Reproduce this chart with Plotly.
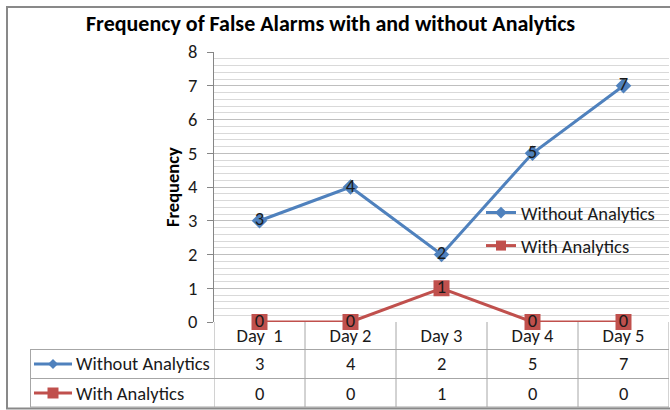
import plotly.graph_objects as go

categories = ["Day\u00a0 1", "Day 2", "Day 3", "Day 4", "Day 5"]
without_analytics = [3, 4, 2, 5, 7]
with_analytics = [0, 0, 1, 0, 0]
series_names = ["Without Analytics", "With Analytics"]
y_ticks = [0, 1, 2, 3, 4, 5, 6, 7, 8]

BLUE = "#4F81BD"
RED = "#C0504D"
FONT = "Carlito, 'Liberation Sans Narrow', 'Open Sans', sans-serif"
FS = 18.5

W, H = 670, 410
L, R, T, B = 214, 1, 52, 88
PH = H - T - B


def py(p):
    # pixel row -> paper y
    return (H - B - p) / PH


def px(p):
    return (p - L) / (W - L - R)


fig = go.Figure()

fig.add_trace(go.Scatter(
    x=categories, y=without_analytics, name=series_names[0],
    mode="lines+markers+text", text=[str(v) for v in without_analytics],
    textposition="middle center", textfont=dict(family=FONT, size=FS, color="#1a1a1a"),
    line=dict(color=BLUE, width=3), marker=dict(symbol="diamond", size=12, color=BLUE),
    showlegend=False, cliponaxis=False,
))
fig.add_trace(go.Scatter(
    x=categories, y=with_analytics, name=series_names[1],
    mode="lines+markers+text", text=[str(v) for v in with_analytics],
    textposition="middle center", textfont=dict(family=FONT, size=FS, color="#1a1a1a"),
    line=dict(color=RED, width=3), marker=dict(symbol="square", size=16, color=RED),
    showlegend=False, cliponaxis=False,
))
# legend entries
fig.add_trace(go.Scatter(
    x=[None], y=[None], name=series_names[0], mode="lines+markers",
    line=dict(color=BLUE, width=3), marker=dict(symbol="diamond", size=9, color=BLUE),
    legendgroup="a",
))
fig.add_trace(go.Scatter(
    x=[None], y=[None], name=series_names[1], mode="lines+markers",
    line=dict(color=RED, width=3), marker=dict(symbol="square", size=10, color=RED),
    legendgroup="b",
))

shapes = []
annotations = []
LINEC = "#A6A6A6"
n = len(categories)
# vertical separators in table region
for i in range(n + 1):
    xv = i - 0.5
    shapes.append(dict(type="line", xref="x", yref="paper", x0=xv, x1=xv,
                       y0=py(322), y1=py(407), line=dict(color=LINEC, width=1)))
# horizontal table lines
for p in (349.5, 378.5, 407):
    shapes.append(dict(type="line", xref="paper", yref="paper", x0=px(30), x1=1.0,
                       y0=py(p), y1=py(p), line=dict(color=LINEC, width=1)))
shapes.append(dict(type="line", xref="paper", yref="paper", x0=px(30.5), x1=px(30.5),
                   y0=py(349.5), y1=py(407), line=dict(color=LINEC, width=1)))

# outer chart border
BC = "#898989"
shapes.append(dict(type="line", xref="paper", yref="paper", x0=px(7), x1=px(7),
                   y0=py(7), y1=py(408.5), line=dict(color=BC, width=2)))
shapes.append(dict(type="line", xref="paper", yref="paper", x0=px(6), x1=1.01,
                   y0=py(7), y1=py(7), line=dict(color=BC, width=2)))
shapes.append(dict(type="line", xref="paper", yref="paper", x0=px(6), x1=1.01,
                   y0=py(408.5), y1=py(408.5), line=dict(color=BC, width=2)))

rows = [(without_analytics, series_names[0], BLUE, "diamond", 364),
        (with_analytics, series_names[1], RED, "square", 393)]
for vals, name, col, sym, yc in rows:
    # legend key
    shapes.append(dict(type="line", xref="paper", yref="paper", x0=px(34), x1=px(72),
                       y0=py(yc), y1=py(yc), line=dict(color=col, width=3)))
    cx = 53
    if sym == "diamond":
        d = 5
        path = f"M {px(cx)} {py(yc - d)} L {px(cx + d)} {py(yc)} L {px(cx)} {py(yc + d)} L {px(cx - d)} {py(yc)} Z"
    else:
        d = 5.5
        path = f"M {px(cx - d)} {py(yc - d)} L {px(cx + d)} {py(yc - d)} L {px(cx + d)} {py(yc + d)} L {px(cx - d)} {py(yc + d)} Z"
    shapes.append(dict(type="path", xref="paper", yref="paper", path=path,
                       fillcolor=col, line=dict(color=col, width=0)))
    annotations.append(dict(text=name, xref="paper", yref="paper", x=px(74), y=py(yc),
                            xanchor="left", yanchor="middle", showarrow=False,
                            font=dict(family=FONT, size=FS, color="#1a1a1a")))
    for c, v in zip(categories, vals):
        annotations.append(dict(text=str(v), xref="x", yref="paper", x=c, y=py(yc),
                                xanchor="center", yanchor="middle", showarrow=False,
                                font=dict(family=FONT, size=FS, color="#1a1a1a")))

# title and y-axis title
annotations.append(dict(text="<b>Frequency of False Alarms with and without Analytics</b>",
                        xref="paper", yref="paper", x=px(330), y=py(23),
                        xanchor="center", yanchor="middle", showarrow=False,
                        font=dict(family=FONT, size=22, color="#000000")))
annotations.append(dict(text="<b>Frequency</b>", xref="paper", yref="paper",
                        x=px(172), y=py(187), xanchor="center", yanchor="middle",
                        textangle=-90, showarrow=False,
                        font=dict(family=FONT, size=FS, color="#000000")))

fig.update_layout(
    width=W, height=H,
    margin=dict(l=L, r=R, t=T, b=B),
    paper_bgcolor="white", plot_bgcolor="white",
    font=dict(family=FONT, size=FS, color="#1a1a1a"),
    showlegend=True,
    legend=dict(x=px(481), y=py(194), xanchor="left", yanchor="top",
                bgcolor="rgba(0,0,0,0)", font=dict(family=FONT, size=FS, color="#1a1a1a"),
                tracegroupgap=6, itemsizing="trace"),
    shapes=shapes, annotations=annotations,
)
fig.update_xaxes(type="category", range=[-0.5, n - 0.5], showgrid=False,
                 showline=False, ticks="", tickfont=dict(family=FONT, size=FS, color="#1a1a1a"),
                 zeroline=False, fixedrange=True, ticklabelstandoff=0)
fig.update_yaxes(range=[0, 8], tickvals=y_ticks, showline=True, linecolor="#868686", linewidth=1,
                 ticks="outside", ticklen=6, tickcolor="#868686",
                 gridcolor="#BFBFBF", gridwidth=1, zeroline=False,
                 minor=dict(dtick=0.2, showgrid=True, gridcolor="#D9D9D9", ticks=""),
                 tickfont=dict(family=FONT, size=FS, color="#1a1a1a"), ticklabelstandoff=6)

fig.write_html("out.html", config={"displayModeBar": False},
               post_script="document.body.style.margin='0px';")
